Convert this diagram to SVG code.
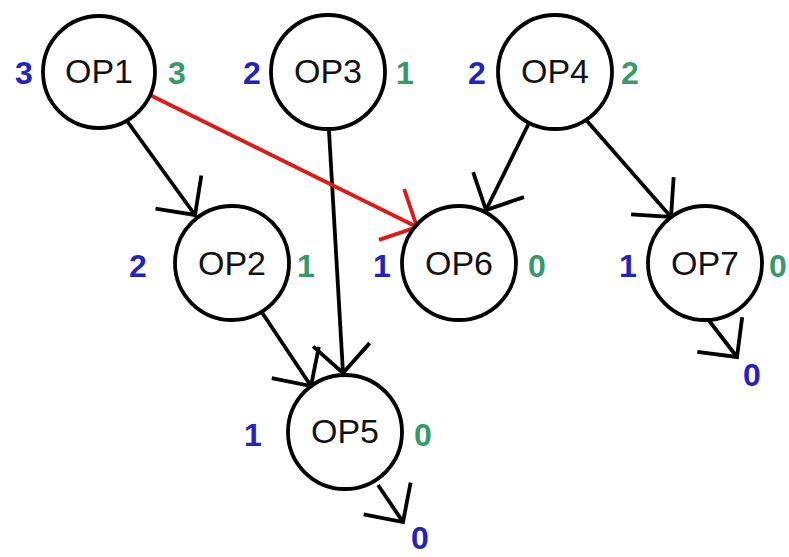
<svg xmlns="http://www.w3.org/2000/svg" width="789" height="557" viewBox="0 0 789 557">
<style>
.node circle{fill:#fff;stroke:#000;stroke-width:3.8}
.lbl{font-family:"Liberation Sans",Arial,sans-serif;font-size:34px;fill:#111;text-anchor:middle}
.n{font-family:"Liberation Sans",Arial,sans-serif;font-size:32px;font-weight:bold;text-anchor:middle}
.b{fill:#2222c0}
.g{fill:#36996c}
.e{fill:none;stroke:#000;stroke-width:3.8}
.r{stroke:#e01818}
</style>
<defs>
<marker id="ah" markerUnits="userSpaceOnUse" markerWidth="80" markerHeight="80" refX="40" refY="40" orient="auto" viewBox="0 0 80 80">
<path d="M11.7,11.7 L40,40 L11.7,68.3" fill="none" stroke="#000" stroke-width="3.8"/>
</marker>
<marker id="ahr" markerUnits="userSpaceOnUse" markerWidth="80" markerHeight="80" refX="40" refY="40" orient="auto" viewBox="0 0 80 80">
<path d="M11.7,11.7 L40,40 L11.7,68.3" fill="none" stroke="#e01818" stroke-width="3.8"/>
</marker>
</defs>
<g id="connectors">
<line class="e" x1="127" y1="121" x2="195" y2="215" marker-end="url(#ah)"/>
<line class="e" x1="329" y1="131" x2="343" y2="373" marker-end="url(#ah)"/>
<line class="e" x1="261" y1="311" x2="311" y2="386" marker-end="url(#ah)"/>
<line class="e" x1="529" y1="123" x2="486" y2="210" marker-end="url(#ah)"/>
<line class="e" x1="587" y1="121" x2="671" y2="217" marker-end="url(#ah)"/>
<line class="e" x1="378" y1="485" x2="403" y2="522" marker-end="url(#ah)"/>
<line class="e" x1="707" y1="318" x2="737" y2="357" marker-end="url(#ah)"/>
<line class="e r" x1="150" y1="95" x2="417" y2="227" marker-end="url(#ahr)"/>
</g>
<g id="op1" class="node"><circle cx="99" cy="72" r="56"/><text class="lbl" x="99" y="83">OP1</text><text class="n b" x="24" y="84">3</text><text class="n g" x="177" y="84">3</text></g>
<g id="op3" class="node"><circle cx="328" cy="72" r="57"/><text class="lbl" x="328" y="83">OP3</text><text class="n b" x="252" y="84">2</text><text class="n g" x="405" y="84">1</text></g>
<g id="op4" class="node"><circle cx="555" cy="72" r="57"/><text class="lbl" x="555" y="83">OP4</text><text class="n b" x="477" y="84">2</text><text class="n g" x="630" y="84">2</text></g>
<g id="op2" class="node"><circle cx="232" cy="263" r="57"/><text class="lbl" x="232" y="275">OP2</text><text class="n b" x="138" y="277">2</text><text class="n g" x="306" y="277">1</text></g>
<g id="op6" class="node"><circle cx="459" cy="263" r="57"/><text class="lbl" x="459" y="275">OP6</text><text class="n b" x="382" y="277">1</text><text class="n g" x="537" y="277">0</text></g>
<g id="op7" class="node"><circle cx="705" cy="263" r="57"/><text class="lbl" x="705" y="275">OP7</text><text class="n b" x="628" y="277">1</text><text class="n g" x="778" y="277">0</text><text class="n b" x="752" y="386">0</text></g>
<g id="op5" class="node"><circle cx="345" cy="432" r="57"/><text class="lbl" x="345" y="443">OP5</text><text class="n b" x="253" y="446">1</text><text class="n g" x="423" y="446">0</text><text class="n b" x="420" y="549">0</text></g>
</svg>
